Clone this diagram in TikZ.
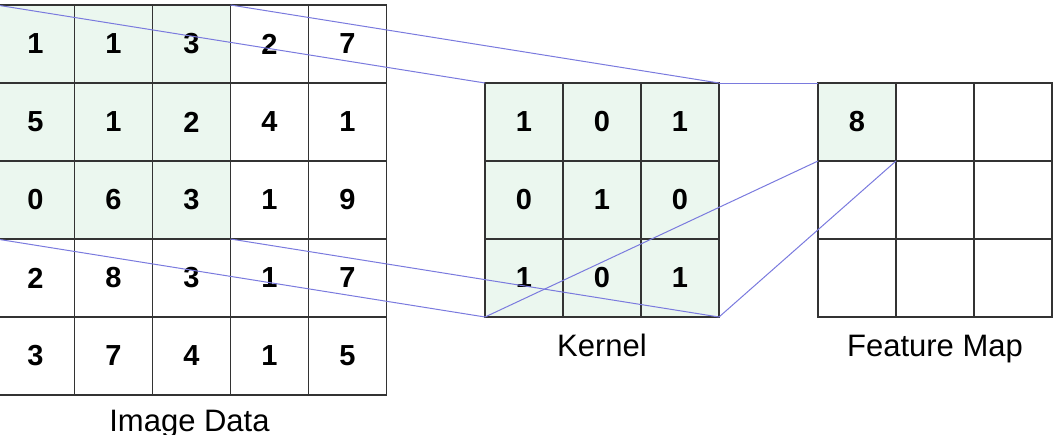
\documentclass[tikz,border=0pt]{standalone}
\usepackage{fontspec}
\setmainfont{Liberation Sans}
\definecolor{gridc}{HTML}{333333}
\definecolor{hlc}{HTML}{EBF7EF}
\definecolor{linkc}{RGB}{122,122,222}
\begin{document}
\begin{tikzpicture}[x=1pt,y=-1pt,
  cell/.style={draw=gridc,line width=1.5pt,minimum size=78pt,inner sep=0pt,outer sep=0pt,
    font=\fontsize{29}{34}\selectfont\bfseries},
  hl/.style={fill=hlc},
  lab/.style={font=\fontsize{31}{36}\selectfont,anchor=base,inner sep=0pt},
  link/.style={draw=linkc,line width=1pt}]
\useasboundingbox (0,0) rectangle (1056,434);
\clip (0,0) rectangle (1056,434);
% Image data 5x5
\foreach \r/\row in {0/{1,1,3,2,7},1/{5,1,2,4,1},2/{0,6,3,1,9},3/{2,8,3,1,7},4/{3,7,4,1,5}}{
  \foreach \v [count=\c from 0] in \row {
    \pgfmathtruncatemacro\hlon{and(\r<3,\c<3)}
    \ifnum\hlon=1
      \node[cell,hl] (img-\r-\c) at (-3.5+39+78*\c, 5+39+78*\r) {\v};
    \else
      \node[cell] (img-\r-\c) at (-3.5+39+78*\c, 5+39+78*\r) {\v};
    \fi
  }
}
% Kernel 3x3
\foreach \r/\row in {0/{1,0,1},1/{0,1,0},2/{1,0,1}}{
  \foreach \v [count=\c from 0] in \row {
    \node[cell,hl] (ker-\r-\c) at (485+39+78*\c, 83+39+78*\r) {\v};
  }
}
% Feature map 3x3
\foreach \r in {0,1,2}{
  \foreach \c in {0,1,2}{
    \node[cell] (fm-\r-\c) at (818+39+78*\c, 83+39+78*\r) {};
  }
}
\node[cell,hl] (fm-0-0) at (818+39, 83+39) {8};
% Labels
\node[lab] (imglab) at (189.5,431) {Image Data};
\node[lab] (kerlab) at (602,356) {Kernel};
\node[lab] (fmlab) at (935,356) {Feature Map};
% Connectors
\draw[link] (img-0-0.north west) -- (ker-0-0.north west);
\draw[link] (img-0-2.north east) -- (ker-0-2.north east);
\draw[link] (img-2-0.south west) -- (ker-2-0.south west);
\draw[link] (img-2-2.south east) -- (ker-2-2.south east);
\draw[link] (ker-0-2.north east) -- (fm-0-0.north west);
\draw[link] (ker-2-0.south west) -- (fm-0-0.south west);
\draw[link] (ker-2-2.south east) -- (fm-0-0.south east);
\end{tikzpicture}
\end{document}
